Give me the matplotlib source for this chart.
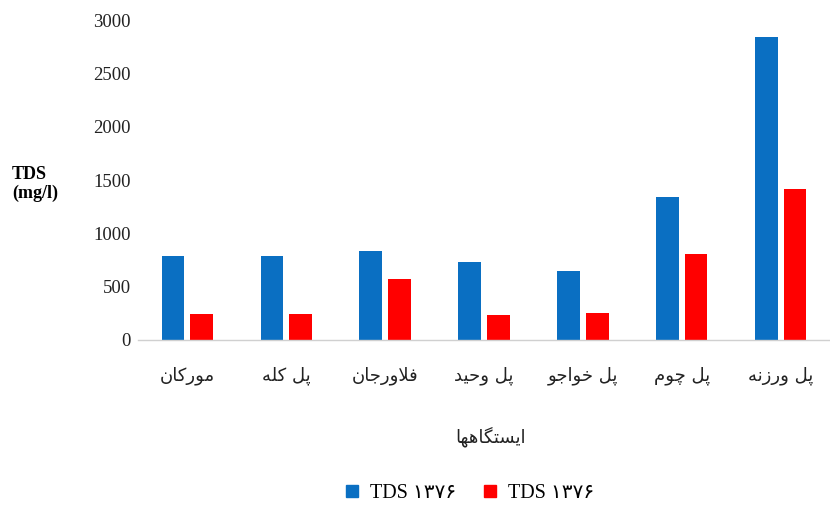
import matplotlib
matplotlib.use("Agg")
import matplotlib.pyplot as plt
from matplotlib.lines import Line2D
import numpy as np

# ---- data ----
stations = ["مورکان", "پل کله", "فلاورجان", "پل وحید", "پل خواجو", "پل چوم", "پل ورزنه"]
tds_blue = [790, 790, 830, 730, 650, 1340, 2840]
tds_red = [240, 245, 570, 235, 255, 810, 1415]
legend_labels = ["TDS ۱۳۷۶", "TDS ۱۳۷۶"]
x_title = "ایستگاهها"
y_title = "TDS\n(mg/l)"
y_ticks = [0, 500, 1000, 1500, 2000, 2500, 3000]

# ---- simple Arabic/Persian shaping (matplotlib has no shaping/bidi) ----
FORMS = {
    'ا': ('\uFE8D', '\uFE8E', None, None),
    'ب': ('\uFE8F', '\uFE90', '\uFE91', '\uFE92'),
    'پ': ('\uFB56', '\uFB57', '\uFB58', '\uFB59'),
    'ت': ('\uFE95', '\uFE96', '\uFE97', '\uFE98'),
    'ج': ('\uFE9D', '\uFE9E', '\uFE9F', '\uFEA0'),
    'چ': ('\uFB7A', '\uFB7B', '\uFB7C', '\uFB7D'),
    'ح': ('\uFEA1', '\uFEA2', '\uFEA3', '\uFEA4'),
    'خ': ('\uFEA5', '\uFEA6', '\uFEA7', '\uFEA8'),
    'د': ('\uFEA9', '\uFEAA', None, None),
    'ذ': ('\uFEAB', '\uFEAC', None, None),
    'ر': ('\uFEAD', '\uFEAE', None, None),
    'ز': ('\uFEAF', '\uFEB0', None, None),
    'ژ': ('\uFB8A', '\uFB8B', None, None),
    'س': ('\uFEB1', '\uFEB2', '\uFEB3', '\uFEB4'),
    'ش': ('\uFEB5', '\uFEB6', '\uFEB7', '\uFEB8'),
    'ف': ('\uFED1', '\uFED2', '\uFED3', '\uFED4'),
    'ق': ('\uFED5', '\uFED6', '\uFED7', '\uFED8'),
    'ک': ('\uFB8E', '\uFB8F', '\uFB90', '\uFB91'),
    'گ': ('\uFB92', '\uFB93', '\uFB94', '\uFB95'),
    'ل': ('\uFEDD', '\uFEDE', '\uFEDF', '\uFEE0'),
    'م': ('\uFEE1', '\uFEE2', '\uFEE3', '\uFEE4'),
    'ن': ('\uFEE5', '\uFEE6', '\uFEE7', '\uFEE8'),
    'و': ('\uFEED', '\uFEEE', None, None),
    'ه': ('\uFEE9', '\uFEEA', '\uFEEB', '\uFEEC'),
    'ی': ('\uFBFC', '\uFBFD', '\uFEF3', '\uFEF4'),
}


def joins_left(c):
    return c in FORMS and FORMS[c][2] is not None


def shape(text):
    out = []
    n = len(text)
    i = 0
    while i < n:
        c = text[i]
        if c not in FORMS:
            out.append(c)
            i += 1
            continue
        prev = text[i - 1] if i > 0 else None
        cp = prev is not None and joins_left(prev)
        if c == 'ل' and i + 1 < n and text[i + 1] == 'ا':
            out.append('\uFEFC' if cp else '\uFEFB')
            i += 2
            continue
        nxt = text[i + 1] if i + 1 < n else None
        cn = joins_left(c) and nxt in FORMS
        iso, fin, ini, med = FORMS[c]
        if cp and cn:
            g = med
        elif cp:
            g = fin
        elif cn:
            g = ini
        else:
            g = iso
        out.append(g)
        i += 1
    return ''.join(reversed(out))


BLUE = "#0A6FC2"
RED = "#FF0000"
serif = ["Liberation Serif", "DejaVu Sans"]

fig = plt.figure(figsize=(8.3, 5.11), dpi=100)
ax = fig.add_axes([138 / 830, 1 - 340 / 511, 692 / 830, 320 / 511])

x = np.arange(len(stations))
w = 0.23
off = 0.145
ax.bar(x - off, tds_blue, width=w, color=BLUE)
ax.bar(x + off, tds_red, width=w, color=RED)

ax.set_xlim(-0.5, len(stations) - 0.5)
ax.set_ylim(0, 3000)
ax.set_yticks(y_ticks)
ax.set_yticklabels([str(v) for v in y_ticks], family=serif, fontsize=13.5, color="#222222")
ax.set_xticks(x)
ax.set_xticklabels([shape(s) for s in stations], family="DejaVu Sans", fontsize=13, color="#222222")
ax.tick_params(axis="y", length=0, pad=5)
ax.tick_params(axis="x", length=0, pad=19)

for s in ["top", "right", "left"]:
    ax.spines[s].set_visible(False)
ax.spines["bottom"].set_color("#D0D0D0")
ax.spines["bottom"].set_linewidth(1.0)

fig.text(12 / 830, 1 - 184 / 511, y_title, family=serif, fontsize=13, fontweight="bold",
         ha="left", va="center", linespacing=1.2)
fig.text(490 / 830, 1 - 437 / 511, shape(x_title), family="DejaVu Sans", fontsize=13,
         ha="center", va="center", color="#222222")

handles = [Line2D([0], [0], marker="s", linestyle="none", markersize=8, color=BLUE),
           Line2D([0], [0], marker="s", linestyle="none", markersize=8, color=RED)]
fig.legend(handles, legend_labels, loc="center", bbox_to_anchor=(468 / 830, 1 - 493 / 511),
           ncol=2, frameon=False, prop={"family": serif, "size": 14.5},
           handletextpad=0.4, columnspacing=1.2, handlelength=1.0)

fig.savefig("out.png", dpi=100)
